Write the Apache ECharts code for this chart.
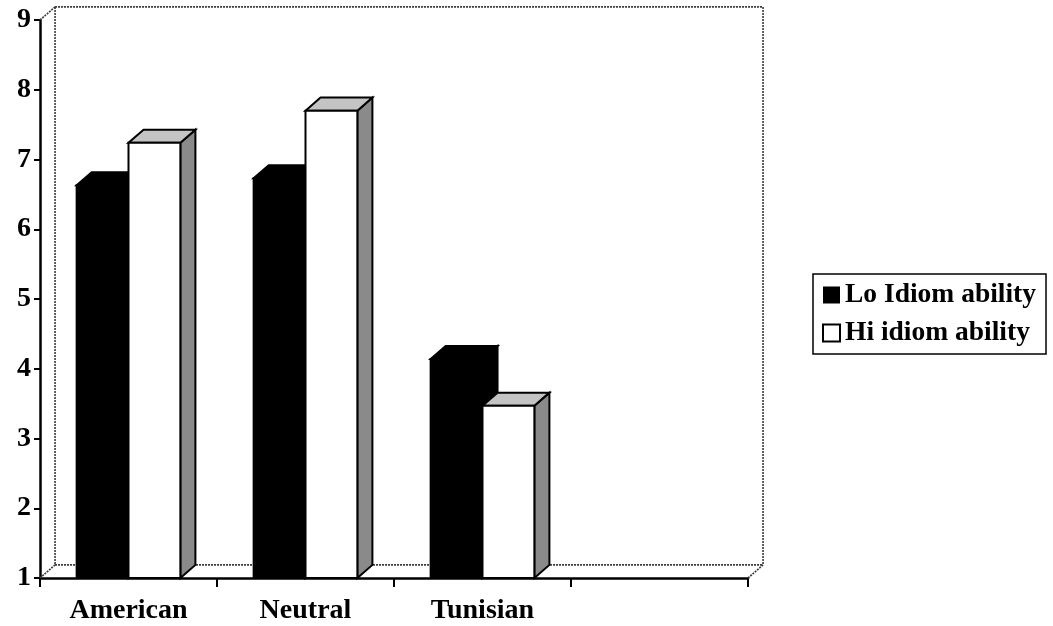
<!DOCTYPE html>
<html>
<head>
<meta charset="utf-8">
<script src="https://cdn.jsdelivr.net/npm/echarts@6/dist/echarts.min.js"></script>
<style>
  html, body { margin: 0; padding: 0; background: #fff; }
  #chart { width: 1053px; height: 626px; }
</style>
</head>
<body>
<div id="chart"></div>
<script>
// Group labels along the floor (last slot is left empty)
const categories = ['American', 'Neutral', 'Tunisian', ''];
// Mean scores per idiom-ability group
const loIdiom = [6.63, 6.73, 4.14];
const hiIdiom = [7.24, 7.70, 3.47];
// Value axis range
const yMin = 1;
const yMax = 9;
const yStep = 1;

const FONT = "'Liberation Serif', 'Times New Roman', serif";

// Depth of the 3D box, as a fraction of one category band
const DEPTH = 0.085;
const DEPTH_SLOPE = 0.87;
const BAR_FRAC = 0.293;

function barRenderer(side, frontColor, topColor, sideColor) {
  return function (params, api) {
    const ci = api.value(0);
    const v = api.value(1);
    const top = api.coord([ci, v]);
    const base = api.coord([ci, yMin]);
    const band = api.size([1, 0])[0];
    const bw = band * BAR_FRAC;
    const dx = band * DEPTH;
    const dy = -dx * DEPTH_SLOPE;
    const x0 = side < 0 ? top[0] - bw : top[0];
    const x1 = x0 + bw;
    const yt = top[1];
    const yb = base[1];
    const stroke = { stroke: '#000', lineWidth: 2, lineJoin: 'miter' };
    return {
      type: 'group',
      children: [
        {
          type: 'polygon',
          shape: { points: [[x1, yt], [x1 + dx, yt + dy], [x1 + dx, yb + dy], [x1, yb]] },
          style: Object.assign({ fill: sideColor }, stroke)
        },
        {
          type: 'polygon',
          shape: { points: [[x0, yt], [x0 + dx, yt + dy], [x1 + dx, yt + dy], [x1, yt]] },
          style: Object.assign({ fill: topColor }, stroke)
        },
        {
          type: 'rect',
          shape: { x: x0, y: yt, width: bw, height: yb - yt },
          style: Object.assign({ fill: frontColor }, stroke)
        }
      ]
    };
  };
}

// Back wall, left wall and floor outline of the 3D plot box
function wallRenderer(params, api) {
  const band = api.size([1, 0])[0];
  const dx = band * DEPTH;
  const dy = -dx * DEPTH_SLOPE;
  const left = api.coord([0, yMin])[0] - band / 2;
  const right = api.coord([categories.length - 1, yMin])[0] + band / 2;
  const yb = api.coord([0, yMin])[1];
  const yt = api.coord([0, yMax])[1];
  const ls = { stroke: '#3a3a3a', lineWidth: 1.6, fill: null, lineDash: [2, 1] };
  const line = (a, b) => ({ type: 'line', shape: { x1: a[0], y1: a[1], x2: b[0], y2: b[1] }, style: ls });
  return {
    type: 'group',
    children: [
      line([left, yt], [left + dx, yt + dy]),
      line([left + dx, yt + dy], [right + dx, yt + dy]),
      line([right + dx, yt + dy], [right + dx, yb + dy]),
      line([left + dx, yt + dy], [left + dx, yb + dy]),
      line([left + dx, yb + dy], [right + dx, yb + dy]),
      line([left, yb], [left + dx, yb + dy]),
      line([right, yb], [right + dx, yb + dy])
    ]
  };
}

const chart = echarts.init(document.getElementById('chart'), null, { renderer: 'canvas' });

chart.setOption({
  animation: false,
  backgroundColor: '#fff',
  grid: { left: 40, right: 305, top: 20, bottom: 48, containLabel: false },
  legend: {
    orient: 'vertical',
    left: 813,
    top: 274,
    itemWidth: 17,
    itemHeight: 17,
    itemGap: 8,
    padding: [6, 10, 6, 9],
    borderColor: '#000',
    borderWidth: 1.5,
    icon: 'rect',
    textStyle: { fontFamily: FONT, fontWeight: 'bold', fontSize: 27.5, color: '#000', lineHeight: 30 },
    data: ['Lo Idiom ability', 'Hi idiom ability']
  },
  xAxis: {
    type: 'category',
    data: categories,
    boundaryGap: true,
    axisLine: { show: true, lineStyle: { color: '#000', width: 2.5 } },
    axisTick: { show: true, length: 9, lineStyle: { color: '#000', width: 2 } },
    axisLabel: { fontFamily: FONT, fontWeight: 'bold', fontSize: 28, color: '#000', margin: 19 },
    splitLine: { show: false }
  },
  yAxis: {
    type: 'value',
    min: yMin,
    max: yMax,
    interval: yStep,
    axisLine: { show: true, lineStyle: { color: '#000', width: 2.5 } },
    axisTick: { show: true, length: 6, lineStyle: { color: '#000', width: 2 } },
    axisLabel: { fontFamily: FONT, fontWeight: 'bold', fontSize: 28, color: '#000', margin: 9 },
    splitLine: { show: false }
  },
  series: [
    {
      type: 'custom',
      name: 'walls',
      z: 1,
      silent: true,
      renderItem: wallRenderer,
      data: [[0, yMin]],
      encode: { x: 0, y: 1 }
    },
    {
      type: 'custom',
      name: 'Lo Idiom ability',
      z: 2,
      itemStyle: { color: '#000' },
      renderItem: barRenderer(-1, '#000', '#000', '#000'),
      data: loIdiom.map((v, i) => [i, v]),
      encode: { x: 0, y: 1 }
    },
    {
      type: 'custom',
      name: 'Hi idiom ability',
      z: 3,
      itemStyle: { color: '#fff', borderColor: '#000', borderWidth: 1.5 },
      renderItem: barRenderer(1, '#fff', '#c4c4c4', '#8a8a8a'),
      data: hiIdiom.map((v, i) => [i, v]),
      encode: { x: 0, y: 1 }
    }
  ]
});
</script>
</body>
</html>
